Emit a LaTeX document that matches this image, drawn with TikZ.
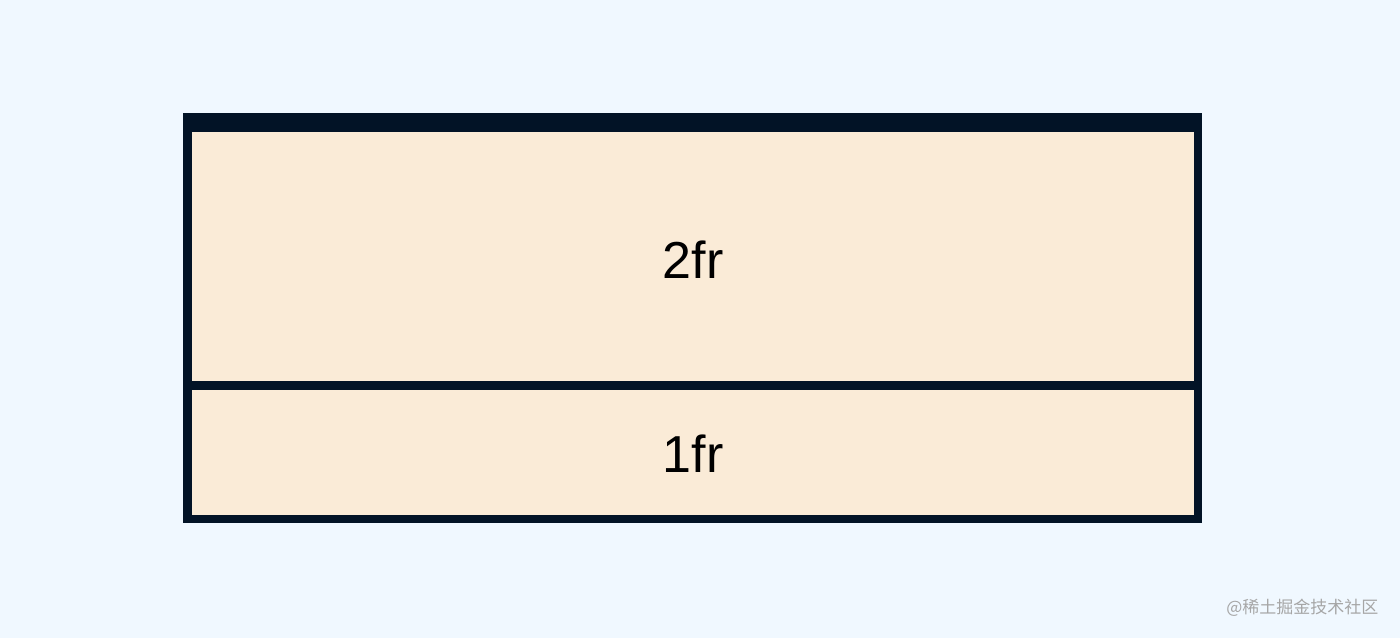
\documentclass[tikz,border=0pt]{standalone}
\usepackage{fontspec}
\setmainfont{Liberation Sans}
\newfontfamily\cjk{Noto Sans CJK SC}
\definecolor{bg}{HTML}{F0F8FF}
\definecolor{dark}{HTML}{021326}
\definecolor{cell}{HTML}{FAEBD7}
\begin{document}
\begin{tikzpicture}[x=1pt,y=-1pt,
  cellbox/.style={fill=cell,draw=none,inner sep=0pt,outer sep=0pt},
  lbl/.style={font=\fontsize{52}{60}\selectfont,text=black}]
\useasboundingbox (0,0) rectangle (1400,638);
\fill[bg] (0,0) rectangle (1400,638);
\fill[dark] (183,113) rectangle (1202,523);
\fill[cell] (192,132) rectangle (1194,381) coordinate (c1);
\fill[cell] (192,390) rectangle (1194,515);
\node[lbl] (a) at (693,260) {2fr};
\node[lbl] (b) at (693,454) {1fr};
\node[text=gray!70,font=\cjk\fontsize{17}{20}\selectfont,anchor=east] (w) at (1382,608) {@稀土掘金技术社区};
\end{tikzpicture}
\end{document}
